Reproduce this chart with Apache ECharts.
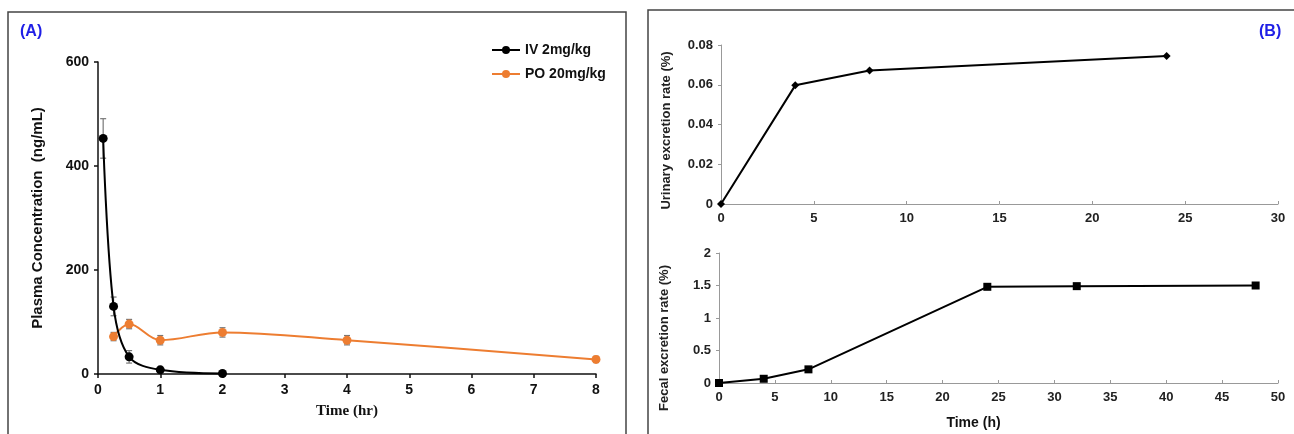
<!DOCTYPE html>
<html>
<head>
<meta charset="utf-8">
<script src="https://cdn.jsdelivr.net/npm/echarts@6/dist/echarts.min.js"></script>
<style>
  html, body { margin: 0; padding: 0; background: #fff; }
  #chart { width: 1294px; height: 434px; }
</style>
</head>
<body>
<div id="chart"></div>
<script>
// (A) 血浆浓度-时间曲线
const timeIV = [0.083, 0.25, 0.5, 1, 2];
const concIV = [453, 130, 33, 8, 1];
const errIV = [38, 18, 12, 3, 1];

const timePO = [0.25, 0.5, 1, 2, 4, 8];
const concPO = [72, 96, 65, 80, 65, 28];
const errPO = [8, 9, 9, 9, 9, 6];

// (B) 尿液 / 粪便排泄率
const timeUrine = [0, 4, 8, 24];
const urineRate = [0, 0.0597, 0.0672, 0.0745];

const timeFeces = [0, 4, 8, 24, 32, 48];
const fecesRate = [0, 0.065, 0.21, 1.48, 1.49, 1.5];

const ORANGE = "#ED7D31";
const BLUE = "#1F1FE6";

function pairs(xs, ys) {
    return xs.map((x, i) => [x, ys[i]]);
}

function errorData(xs, ys, es) {
    return xs.map((x, i) => [x, ys[i], es[i]]);
}

function renderErrorBar(params, api) {
    const x = api.value(0);
    const y = api.value(1);
    const e = api.value(2);
    const top = api.coord([x, y + e]);
    const bot = api.coord([x, y - e]);
    const cap = 3;
    const style = { stroke: "#777", lineWidth: 1.2 };
    return {
        type: "group",
        children: [
            { type: "line", shape: { x1: top[0], y1: top[1], x2: bot[0], y2: bot[1] }, style },
            { type: "line", shape: { x1: top[0] - cap, y1: top[1], x2: top[0] + cap, y2: top[1] }, style },
            { type: "line", shape: { x1: bot[0] - cap, y1: bot[1], x2: bot[0] + cap, y2: bot[1] }, style },
        ],
    };
}

const axisA = {
    axisLine: { lineStyle: { color: "#111", width: 1.5 } },
    axisTick: { show: true, length: 4, lineStyle: { color: "#111", width: 1.5 } },
    axisLabel: { color: "#111", fontSize: 14, fontWeight: "bold", fontFamily: "Liberation Sans", margin: 9 },
    splitLine: { show: false },
};

const axisB = {
    axisLine: { lineStyle: { color: "#999", width: 1 } },
    axisTick: { show: true, length: 3, lineStyle: { color: "#999" } },
    axisLabel: { color: "#222", fontSize: 13, fontWeight: "bold", fontFamily: "Liberation Sans", margin: 8 },
    splitLine: { show: false },
};

const chart = echarts.init(document.getElementById("chart"));

chart.setOption({
    animation: false,
    backgroundColor: "#fff",
    grid: [
        { left: 98, top: 62, width: 498, height: 312 },
        { left: 721, top: 45, width: 557, height: 159 },
        { left: 719, top: 253, width: 559, height: 130 },
    ],
    legend: {
        left: 486,
        top: 38,
        orient: "vertical",
        itemWidth: 28,
        itemHeight: 10,
        itemGap: 10,
        textStyle: { fontSize: 14, fontWeight: "bold", color: "#111", fontFamily: "Liberation Sans" },
        data: ["IV 2mg/kg", "PO 20mg/kg"],
    },
    xAxis: [
        {
            ...axisA, gridIndex: 0, type: "value", min: 0, max: 8, interval: 1,
            name: "Time (hr)", nameLocation: "middle", nameGap: 30,
            nameTextStyle: { fontFamily: "Liberation Serif", fontWeight: "bold", fontSize: 15, color: "#111" },
        },
        {
            ...axisB, gridIndex: 1, type: "value", min: 0, max: 30, interval: 5,
            axisTick: { ...axisB.axisTick, inside: true },
        },
        {
            ...axisB, gridIndex: 2, type: "value", min: 0, max: 50, interval: 5,
            axisTick: { ...axisB.axisTick, inside: true },
            name: "Time (h)", nameLocation: "middle", nameGap: 33,
            nameTextStyle: { fontFamily: "Liberation Sans", fontWeight: "bold", fontSize: 14, color: "#111", padding: [0, 50, 0, 0] },
        },
    ],
    yAxis: [
        {
            ...axisA, gridIndex: 0, type: "value", min: 0, max: 600, interval: 200,
            name: "Plasma Concentration  (ng/mL)", nameLocation: "middle", nameGap: 53,
            nameTextStyle: { fontFamily: "Liberation Sans", fontWeight: "bold", fontSize: 15, color: "#111" },
        },
        {
            ...axisB, gridIndex: 1, type: "value", min: 0, max: 0.08, interval: 0.02,
            name: "Urinary excretion rate (%)", nameLocation: "middle", nameGap: 48,
            nameTextStyle: { fontFamily: "Liberation Sans", fontWeight: "bold", fontSize: 13, color: "#222", padding: [0, 12, 0, 0] },
        },
        {
            ...axisB, gridIndex: 2, type: "value", min: 0, max: 2, interval: 0.5,
            name: "Fecal excretion rate (%)", nameLocation: "middle", nameGap: 48,
            nameTextStyle: { fontFamily: "Liberation Sans", fontWeight: "bold", fontSize: 13, color: "#222", padding: [0, 40, 0, 0] },
        },
    ],
    series: [
        {
            type: "custom", xAxisIndex: 0, yAxisIndex: 0, z: 1,
            renderItem: renderErrorBar, encode: { x: 0, y: 1 },
            data: errorData(timeIV, concIV, errIV),
        },
        {
            type: "custom", xAxisIndex: 0, yAxisIndex: 0, z: 1,
            renderItem: renderErrorBar, encode: { x: 0, y: 1 },
            data: errorData(timePO, concPO, errPO),
        },
        {
            name: "PO 20mg/kg", type: "line", xAxisIndex: 0, yAxisIndex: 0, z: 3,
            smooth: 0.35, symbol: "circle", symbolSize: 9,
            lineStyle: { color: ORANGE, width: 2 },
            itemStyle: { color: ORANGE },
            data: pairs(timePO, concPO),
        },
        {
            name: "IV 2mg/kg", type: "line", xAxisIndex: 0, yAxisIndex: 0, z: 4,
            smooth: 0.35, symbol: "circle", symbolSize: 9,
            lineStyle: { color: "#000", width: 2 },
            itemStyle: { color: "#000" },
            data: pairs(timeIV, concIV),
        },
        {
            type: "line", xAxisIndex: 1, yAxisIndex: 1,
            symbol: "diamond", symbolSize: 8,
            lineStyle: { color: "#000", width: 2 },
            itemStyle: { color: "#000" },
            data: pairs(timeUrine, urineRate),
        },
        {
            type: "line", xAxisIndex: 2, yAxisIndex: 2,
            symbol: "rect", symbolSize: 8,
            lineStyle: { color: "#000", width: 2 },
            itemStyle: { color: "#000" },
            data: pairs(timeFeces, fecesRate),
        },
    ],
    graphic: [
        { type: "rect", shape: { x: 8, y: 12, width: 618, height: 440 }, style: { fill: "none", stroke: "#444", lineWidth: 1.5 } },
        { type: "rect", shape: { x: 648, y: 10, width: 660, height: 440 }, style: { fill: "none", stroke: "#444", lineWidth: 1.5 } },
        { type: "text", left: 20, top: 24, style: { text: "(A)", fill: BLUE, font: "bold 16px Liberation Sans" } },
        { type: "text", left: 1259, top: 24, style: { text: "(B)", fill: BLUE, font: "bold 16px Liberation Sans" } },
    ],
});
</script>
</body>
</html>
